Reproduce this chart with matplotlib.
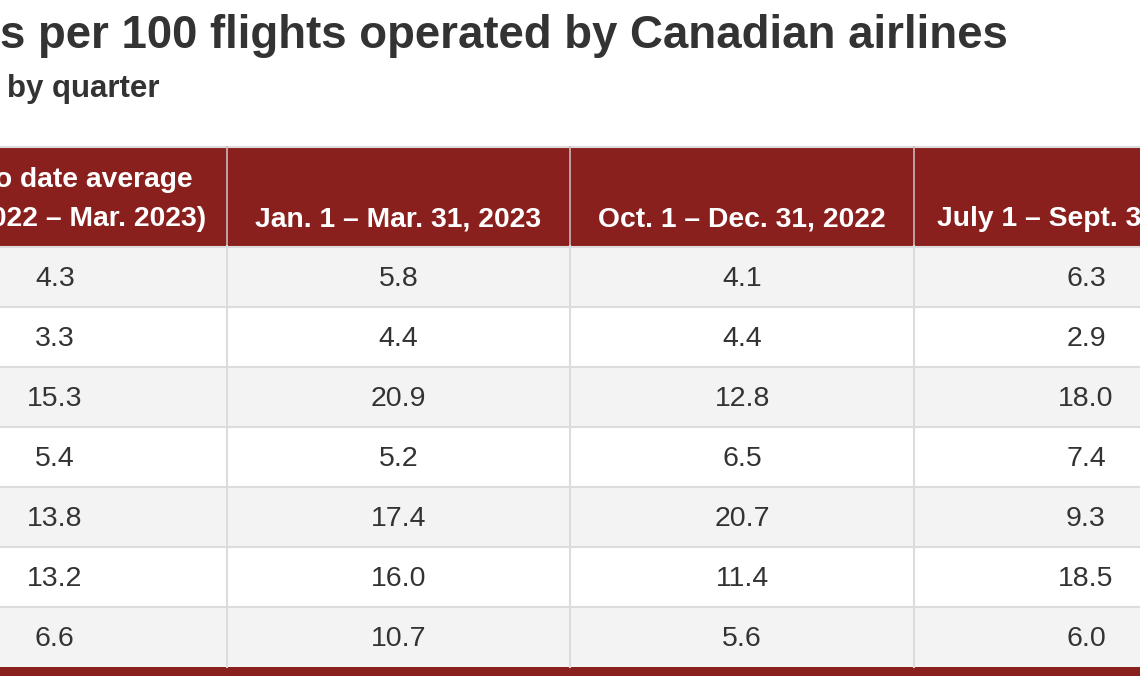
import matplotlib
matplotlib.use("Agg")
import matplotlib.pyplot as plt
from matplotlib.patches import Rectangle

# ---- data ----
title = "s per 100 flights operated by Canadian airlines"
subtitle = "by quarter"
columns = ["Year to date average\n(Apr. 2022 \u2013 Mar. 2023)",
           "Jan. 1 \u2013 Mar. 31, 2023",
           "Oct. 1 \u2013 Dec. 31, 2022",
           "July 1 \u2013 Sept. 30, 2022"]
ytd_avg = [4.3, 3.3, 15.3, 5.4, 13.8, 13.2, 6.6]
q1_2023 = [5.8, 4.4, 20.9, 5.2, 17.4, 16.0, 10.7]
q4_2022 = [4.1, 4.4, 12.8, 6.5, 20.7, 11.4, 5.6]
q3_2022 = [6.3, 2.9, 18.0, 7.4, 9.3, 18.5, 6.0]
series = [ytd_avg, q1_2023, q4_2022, q3_2022]

# ---- style ----
RED = "#8a201e"
GRAY_ROW = "#f3f3f3"
LINE = "#dcdcdc"
TEXT = "#333333"
FONT = ["Liberation Sans", "DejaVu Sans"]

W, H = 1140, 694
fig = plt.figure(figsize=(W / 100, H / 100), dpi=100)
ax = fig.add_axes([0, 0, 1, 1])
ax.set_xlim(0, W)
ax.set_ylim(H, 0)
ax.axis("off")

x0 = -117.0
col_w = 343.7
head_top = 147
head_bot = 246
row_h = 60
n_rows = len(ytd_avg)

ax.text(0, 47.5, title, fontsize=32.9, fontweight="bold", color=TEXT,
        family=FONT, ha="left", va="baseline")
ax.text(7, 97, subtitle, fontsize=22.5, fontweight="bold", color=TEXT,
        family=FONT, ha="left", va="baseline")

# header
ax.add_patch(Rectangle((x0, head_top), col_w * len(columns), head_bot - head_top,
                       facecolor=RED, edgecolor="none"))
ax.plot([x0, W], [head_top - 0.5, head_top - 0.5], color=LINE, lw=1.5)
for j, col in enumerate(columns):
    cx = x0 + col_w * (j + 0.5)
    lines = col.split("\n")
    for k, line in enumerate(reversed(lines)):
        ax.text(cx, 226 - 39 * k, line, fontsize=20.3, fontweight="bold",
                color="white", family=FONT, ha="center", va="baseline")

# body
for i in range(n_rows):
    top = head_bot + 1 + i * row_h
    if i % 2 == 0:
        ax.add_patch(Rectangle((x0, top), col_w * len(columns), row_h,
                               facecolor=GRAY_ROW, edgecolor="none"))
    ax.plot([x0, W], [top, top], color=LINE, lw=1.5)
    for j, vals in enumerate(series):
        cx = x0 + col_w * (j + 0.5)
        ax.text(cx, top + row_h / 2 + 1.5, f"{vals[i]:.1f}", fontsize=20.5,
                color=TEXT, family=FONT, ha="center", va="center")

body_bot = head_bot + 1 + n_rows * row_h
for j in range(1, len(columns)):
    x = x0 + col_w * j
    ax.plot([x, x], [head_top, head_bot], color="#cdb8b7", lw=1.2)
    ax.plot([x, x], [head_bot, body_bot], color=LINE, lw=1.5)

ax.add_patch(Rectangle((x0, body_bot), col_w * len(columns), 9,
                       facecolor=RED, edgecolor="none"))

fig.savefig("out.png", dpi=100)
